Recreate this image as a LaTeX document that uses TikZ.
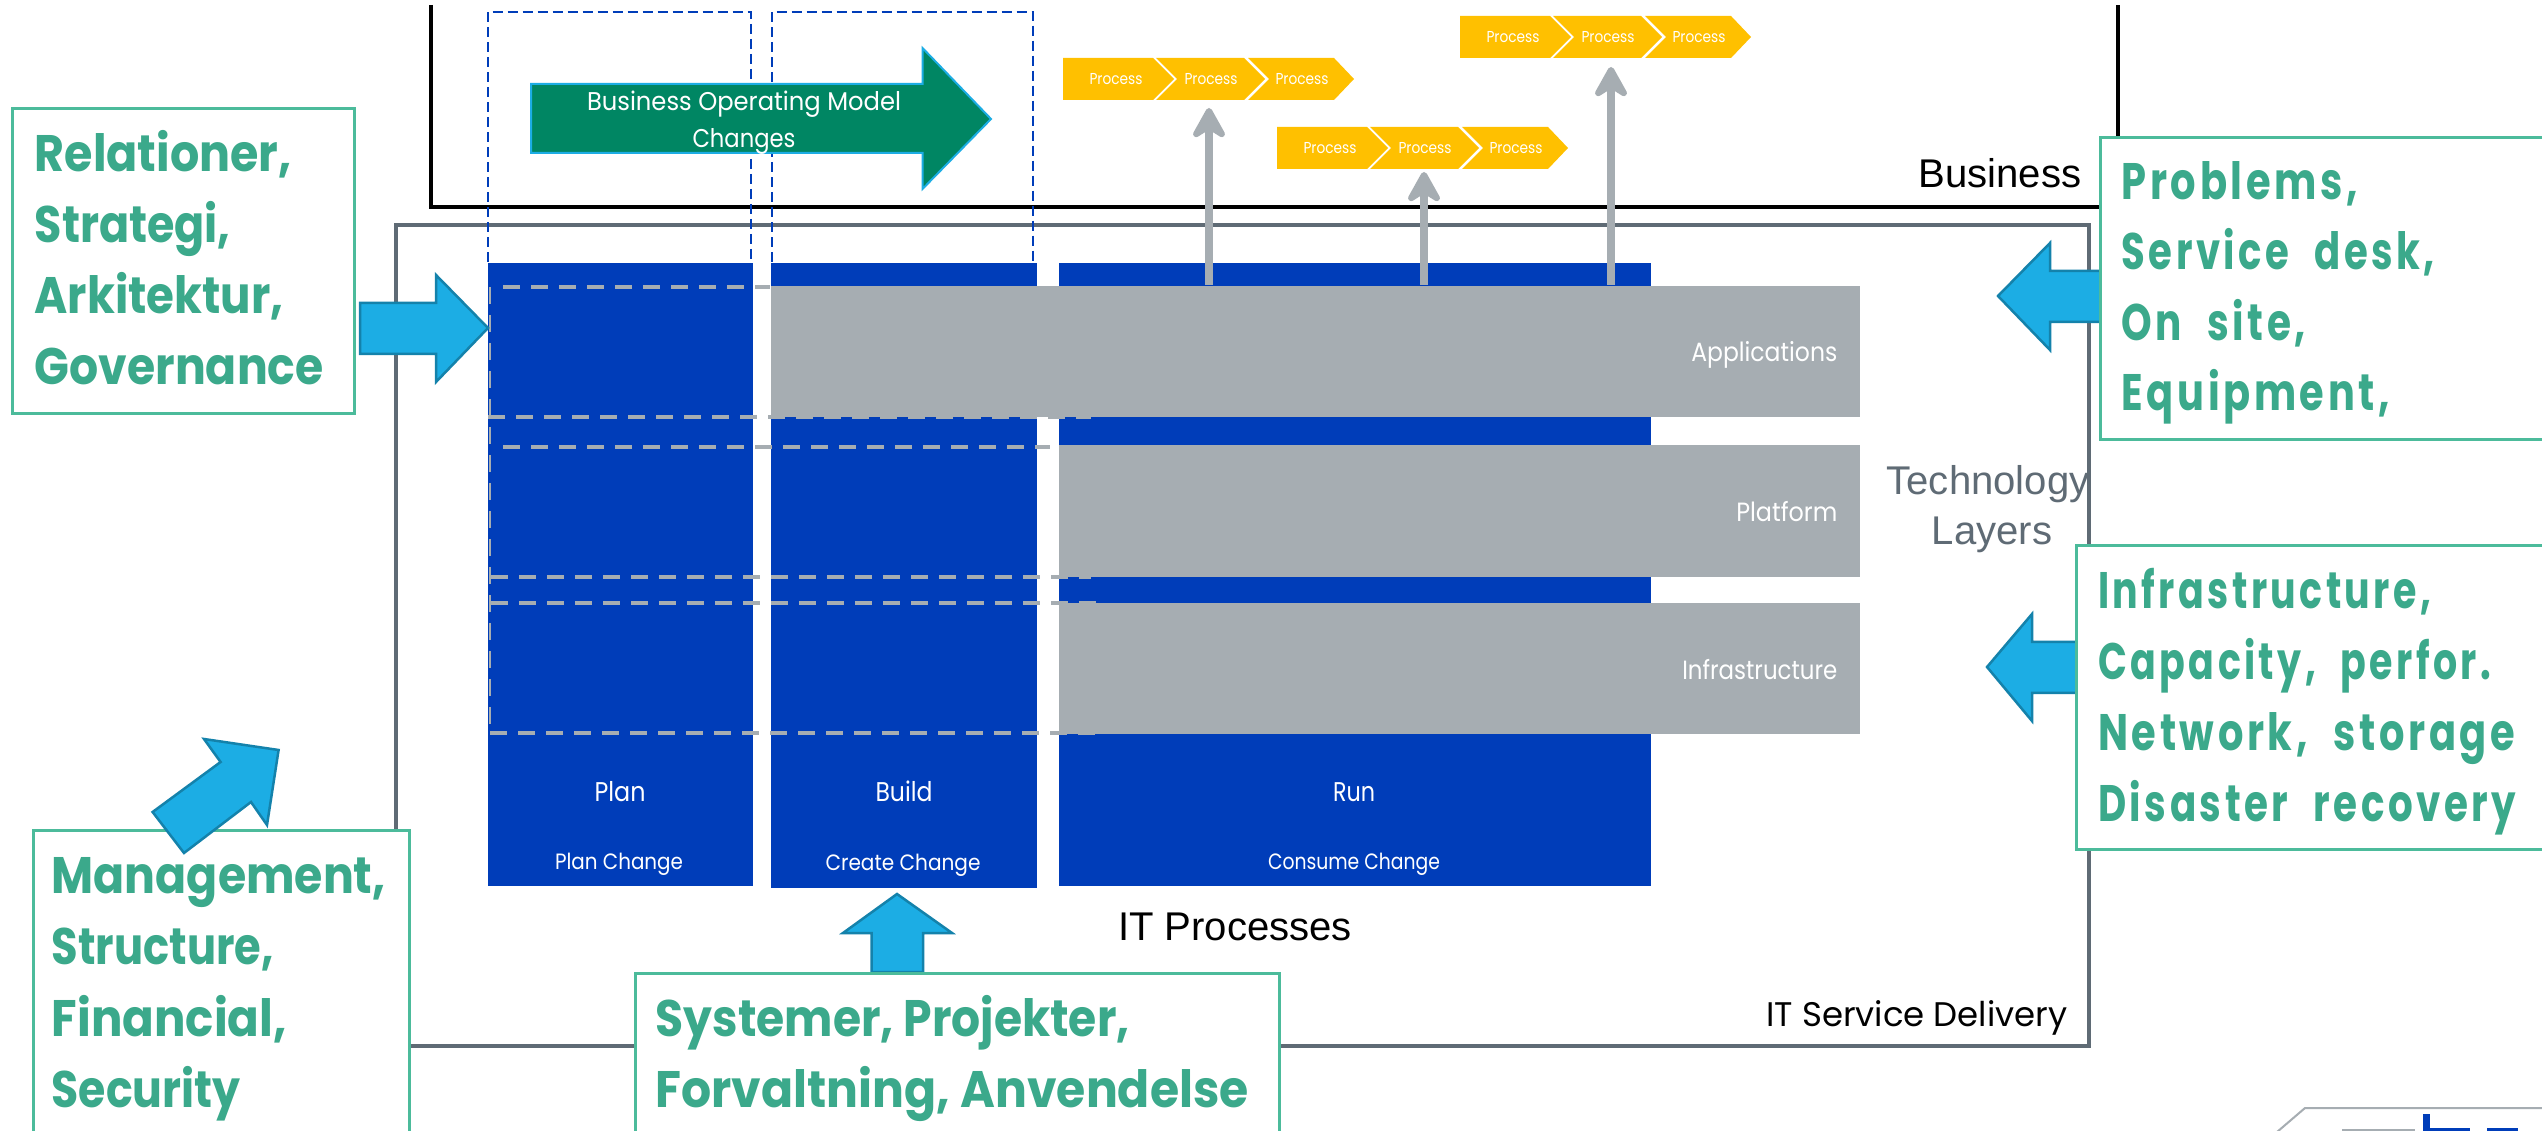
\documentclass[tikz,border=0pt]{standalone}
\usepackage{fontspec}
\usepackage{graphicx}
\usetikzlibrary{arrows.meta}
\setmainfont{Poppins}
\newfontfamily\arialf{Liberation Sans}
\newfontfamily\gspf[LetterSpace=9]{Poppins}
\newlength\ppx \setlength\ppx{0.01cm}
\newcommand\fit[3]{\resizebox{#1\ppx}{\height}{\fontsize{#2pt}{#2pt}\selectfont #3}}
\newcommand\stk[2]{\vtop{\baselineskip=#1\ppx\lineskiplimit=-1000pt\relax #2}}
\newcommand\gl[2]{\hbox{\fit{#1}{14.6}{\bfseries #2}}}
\newcommand\gs[2]{\hbox{\fit{#1}{14.6}{\gspf\bfseries #2}}}
\newcommand\wsp{\hspace{.35em} }
\definecolor{blockblue}{HTML}{003DB9}
\definecolor{layergray}{HTML}{A6ADB2}
\definecolor{frameg}{HTML}{5F6B75}
\definecolor{boxgreen}{HTML}{4CBB9B}
\definecolor{txtgreen}{HTML}{3BA98B}
\definecolor{sky}{HTML}{1CADE4}
\definecolor{skyd}{HTML}{1482AB}
\definecolor{deepgreen}{HTML}{008663}
\definecolor{amber}{HTML}{FFC000}
\tikzset{
  x=0.01cm, y=-0.01cm,
  block/.style={fill=blockblue, draw=none, inner sep=0pt, anchor=north west},
  layer/.style={fill=layergray, draw=none, inner sep=0pt, anchor=north west},
  gbox/.style={fill=white, draw=boxgreen, line width=3\ppx, inner sep=0pt, anchor=north west},
  gtext/.style={text=txtgreen, inner sep=0pt, anchor=base west},
  wlabel/.style={text=white, inner sep=0pt, anchor=base},
  wright/.style={text=white, inner sep=0pt, anchor=base east},
  dlabel/.style={text=black, inner sep=0pt, anchor=base},
  bdash/.style={draw=blockblue, line width=2\ppx, dash pattern=on 10\ppx off 5\ppx},
  gdash/.style={draw=layergray, line width=4.5\ppx, dash pattern=on 17\ppx off 11\ppx},
  bigarrow/.style={fill=sky, draw=skyd, line width=2.5\ppx, line join=miter},
  chevron/.style={fill=amber, draw=none},
  procarrow/.style={draw=layergray, line width=8\ppx, -{Stealth[length=0.38cm,width=0.42cm,inset=0.13cm,round]}},
}
\begin{document}
\begin{tikzpicture}
\useasboundingbox (0,0) rectangle (2542,1131);
\clip (0,0) rectangle (2542,1131);
\fill[white] (0,0) rectangle (2542,1131);

% frames
\draw[black, line width=4\ppx, line join=miter] (431,5) -- (431,207) -- (2118,207) -- (2118,5);
\draw[frameg, line width=3.5\ppx, line join=miter] (396,225) rectangle (2089,1046);

% process columns
\node[block, minimum width=2.65cm, minimum height=6.23cm] (plan) at (487,262) {};
\node[block, minimum width=2.665cm, minimum height=6.25cm] (build) at (770,262) {};
\node[block, minimum width=5.92cm, minimum height=6.23cm] (run) at (1058,262) {};

% blue dashed outlines
\draw[bdash] (487.5,262) -- (487.5,12) -- (750.6,12) -- (750.6,262);
\draw[bdash] (771.6,262) -- (771.6,12) -- (1033,12) -- (1033,262);

% technology layers
\node[layer, minimum width=10.89cm, minimum height=1.31cm] (apps) at (770,285) {};
\node[layer, minimum width=8.01cm, minimum height=1.32cm] (platform) at (1058,444) {};
\node[layer, minimum width=8.01cm, minimum height=1.31cm] (infra) at (1058,602) {};

% grey dashed lines
\draw[gdash] (503,287) -- (770,287);
\draw[gdash] (488,417) -- (1091,417);
\draw[gdash] (503,447) -- (1050,447);
\draw[gdash] (491,577) -- (1091,577);
\draw[gdash] (491,603) -- (1102,603);
\draw[gdash] (490,733) -- (1095,733);
\draw[gdash, line width=2.5\ppx] (490,287) -- (490,733);

% column and layer labels
\node[wlabel] (tplan) at (620,801) {\fit{51}{7.7}{Plan}};
\node[wlabel] (tbuild) at (904,801) {\fit{57}{7.7}{Build}};
\node[wlabel] (trun) at (1354,801) {\fit{42}{7.7}{Run}};
\node[wlabel] (tplanc) at (619,869) {\fit{128}{6.3}{Plan Change}};
\node[wlabel] (tcreate) at (903,870) {\fit{155}{6.3}{Create Change}};
\node[wlabel] (tconsume) at (1354,869) {\fit{172}{6.3}{Consume Change}};
\node[wright] (tapps) at (1838,362) {\fit{146}{7.5}{Applications}};
\node[wright] (tplat) at (1838,522) {\fit{101}{7.5}{Platform}};
\node[wright] (tinfra) at (1838,680) {\fit{155}{7.5}{Infrastructure}};

% green arrow
\draw[fill=deepgreen, draw=sky, line width=2\ppx, line join=miter]
  (531,84) -- (922.5,84) -- (922.5,48) -- (991,119) -- (922.5,189) -- (922.5,153) -- (531,153) -- cycle;
\node[text=white, inner sep=0pt, anchor=base] (bomc) at (744,111)
  {\stk{37}{\hbox to 314\ppx{\hfil\fit{314}{7.3}{Business Operating Model}\hfil}\hbox to 314\ppx{\hfil\fit{103}{7.3}{Changes}\hfil}}};

% process chevrons
\foreach \nm/\dx/\dy in {a/0/0, b/214/69, c/397/-42} {
  \begin{scope}[shift={(\dx,\dy)}]
    \fill[chevron] (1063,58) -- (1153,58) -- (1174,79) -- (1153,100) -- (1063,100) -- cycle;
    \fill[chevron] (1156,58) -- (1244,58) -- (1265,79) -- (1244,100) -- (1156,100) -- (1177,79) -- cycle;
    \fill[chevron] (1248,58) -- (1334,58) -- (1354,79) -- (1334,100) -- (1248,100) -- (1269,79) -- cycle;
    \node[wlabel, anchor=center] (p\nm1) at (1116,79) {\fit{53}{4.5}{Process}};
    \node[wlabel, anchor=center] (p\nm2) at (1211,79) {\fit{53}{4.5}{Process}};
    \node[wlabel, anchor=center] (p\nm3) at (1302,79) {\fit{53}{4.5}{Process}};
  \end{scope}
}

% grey up arrows
\coordinate (tip1) at (1209,108);
\coordinate (tip2) at (1424,172);
\coordinate (tip3) at (1611,67);
\draw[procarrow] (apps.north -| tip1) -- (tip1);
\draw[procarrow] (apps.north -| tip2) -- (tip2);
\draw[procarrow] (apps.north -| tip3) -- (tip3);

% block arrows
\draw[bigarrow] (360,303) -- (436,303) -- (436,275) -- (488,328) -- (436,382) -- (436,354) -- (360,354) -- cycle;
\draw[bigarrow] (2105,271) -- (2050,271) -- (2050,243) -- (1998,296) -- (2050,350) -- (2050,322) -- (2105,322) -- cycle;
\draw[bigarrow] (2080,642) -- (2032,642) -- (2032,614) -- (1987,667) -- (2032,721) -- (2032,693) -- (2080,693) -- cycle;
\draw[bigarrow] (871.5,972) -- (871.5,933) -- (843,933) -- (897,894) -- (952,933) -- (923,933) -- (923,972) -- cycle;

% text boxes
\node[gbox, minimum width=3.42cm, minimum height=3.05cm] (b1) at (11,107) {};
\node[gtext] (t1) at (34,172) {\stk{71}{\gl{257}{Relationer,}\gl{196}{Strategi,}\gl{249}{Arkitektur,}\gl{289}{Governance}}};
\node[gbox, minimum width=3.765cm, minimum height=4cm] (b2) at (31.5,829) {};
\node[gtext] (t2) at (51,894) {\stk{71}{\gl{334}{Management,}\gl{222}{Structure,}\gl{235}{Financial,}\gl{189}{Security}}};
\node[gbox, minimum width=6.445cm, minimum height=3cm] (b3) at (633.5,972) {};
\node[gtext] (t3) at (655,1036) {\stk{71}{\gl{474}{Systemer, Projekter,}\gl{593}{Forvaltning, Anvendelse}}};
\node[gbox, minimum width=6cm, minimum height=3.02cm] (b4) at (2099,136) {};
\node[gtext] (t4) at (2121,199.5) {\stk{70.5}{\gs{236}{Problems,}\gs{313}{Service\wsp desk,}\gs{184}{On\wsp site,}\gs{268}{Equipment,}}};
\node[gbox, minimum width=6cm, minimum height=3.04cm] (b5) at (2075,544) {};
\node[gtext] (t5) at (2097.5,609) {\stk{71}{\gs{333}{Infrastructure,}\gs{393}{Capacity,\wsp perfor.}\gs{417}{Network,\wsp storage}\gs{418}{Disaster\wsp recovery}}};

% diagonal arrow over the box
\draw[bigarrow] (204,739) -- (278.6,750) -- (267,825) -- (251,802) -- (184,853) -- (152.6,812) -- (220.6,762) -- cycle;

% plain labels
\node[dlabel, font=\arialf\fontsize{11.4pt}{11.4pt}\selectfont] (business) at (2000,188) {Business};
\node[dlabel, font=\arialf\fontsize{11.4pt}{11.4pt}\selectfont] (itproc) at (1235,940) {IT Processes};
\node[dlabel] (itsd) at (1917,1026) {\fit{301}{9.7}{IT Service Delivery}};
\node[text=frameg, inner sep=0pt, anchor=base, font=\arialf\fontsize{11.4pt}{11.4pt}\selectfont] (techl) at (1988,495)
  {\stk{50}{\hbox to 204\ppx{\hfil Technology\hfil}\hbox to 204\ppx{\hfil\hspace{8\ppx}Layers\hfil}}};

% cropped logo
\draw[layergray, line width=2\ppx] (2277,1132) -- (2305,1108) -- (2545,1108);
\fill[blockblue] (2423,1114) rectangle (2430,1132);
\fill[blockblue] (2423,1128) rectangle (2470,1132);
\fill[blockblue] (2487,1128) rectangle (2518,1132);
\fill[layergray] (2342,1129) rectangle (2415,1132);
\end{tikzpicture}
\end{document}
